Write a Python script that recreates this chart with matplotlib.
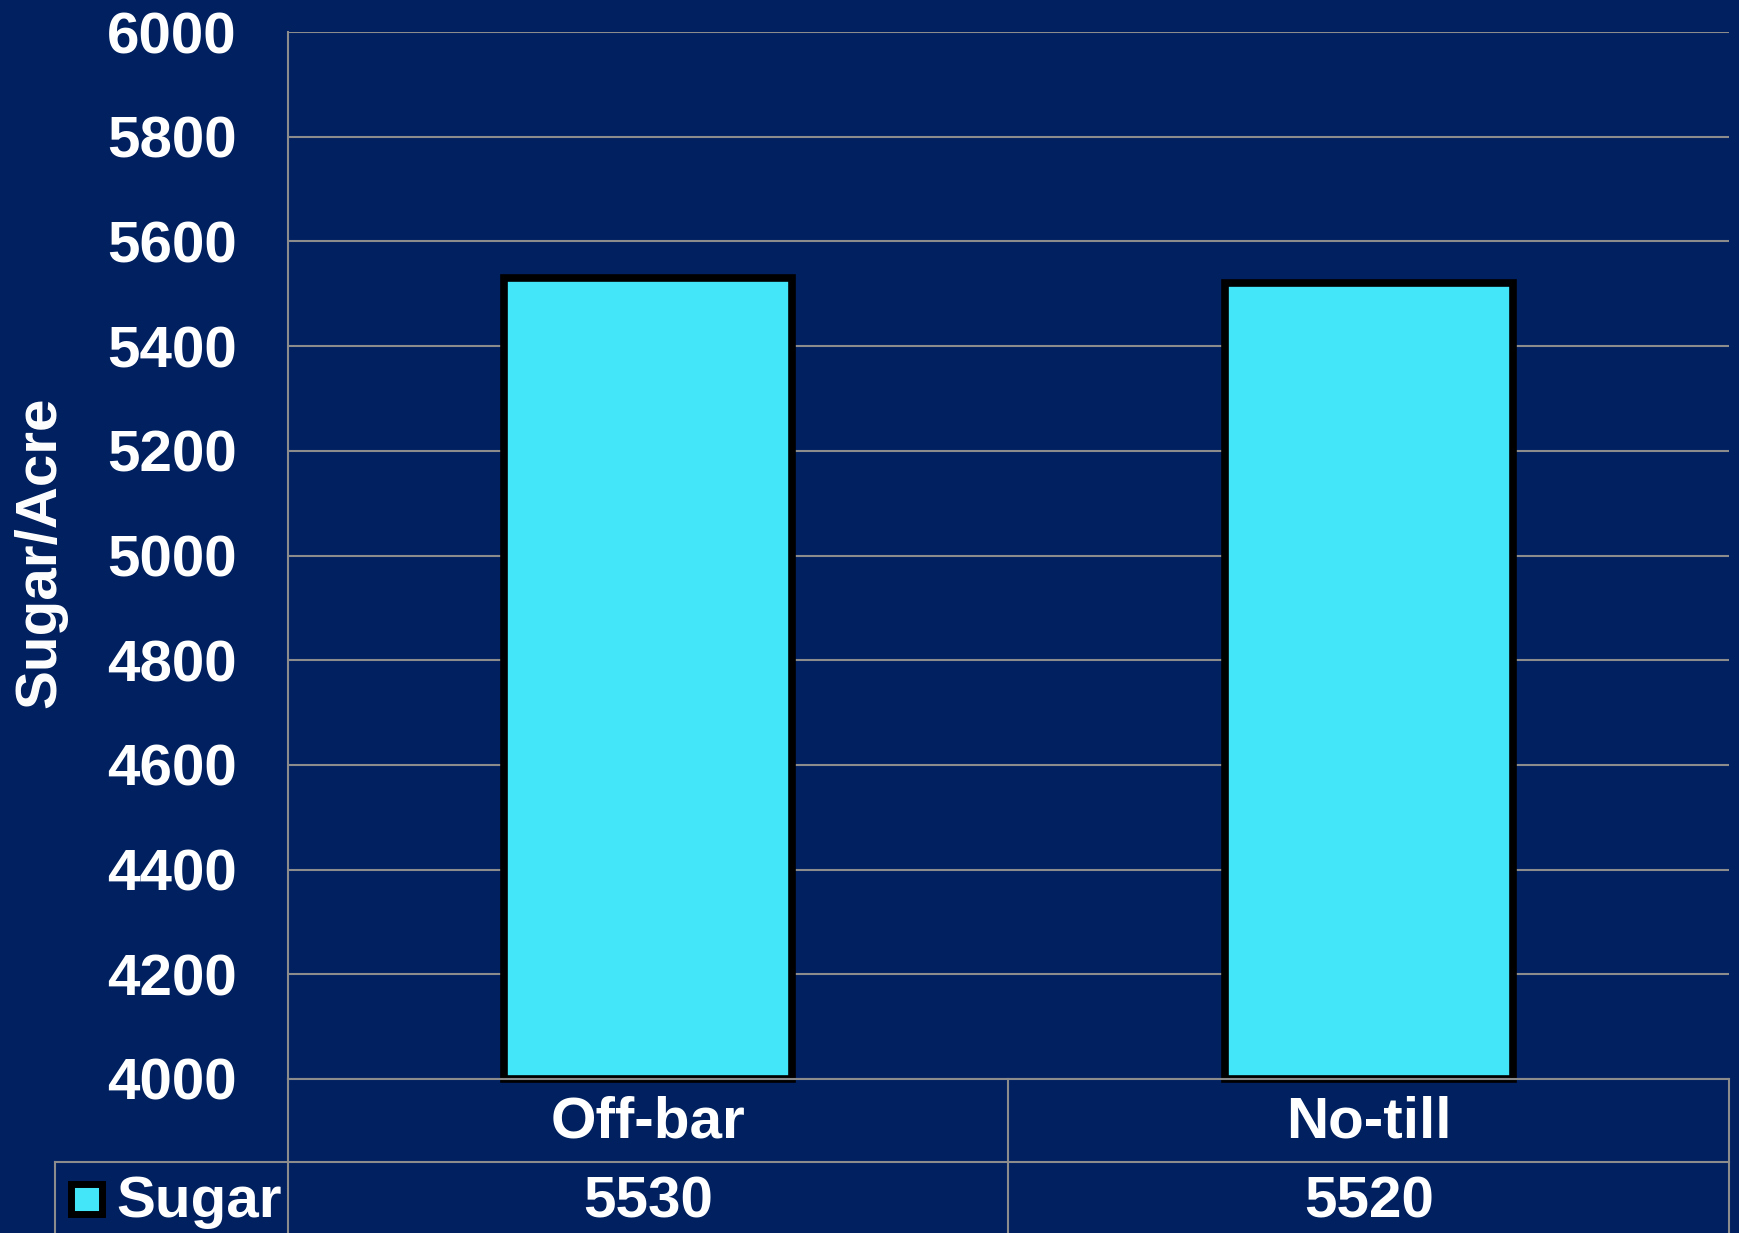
import matplotlib.pyplot as plt
from matplotlib.lines import Line2D
from matplotlib.patches import Rectangle

categories = ["Off-bar", "No-till"]
sugar = [5530, 5520]
series_name = "Sugar"
y_ticks = [4000, 4200, 4400, 4600, 4800, 5000, 5200, 5400, 5600, 5800, 6000]

bg = "#002060"
bar_color = "#42E6F8"
grid_color = "#8C8C8C"
font = "Liberation Sans"
fsize = 42

W, H = 1739, 1233
fig = plt.figure(figsize=(W / 100, H / 100), dpi=100, facecolor=bg)


def fx(px):
    return px / W


def fy(py):
    return 1 - py / H


# plot area in pixels
left, right, top, bottom = 288, 1729, 32, 1079
row_split = 1162
col_split = 1008
table_left = 55

ax = fig.add_axes([fx(left), fy(bottom), fx(right - left), (bottom - top) / H])
ax.set_facecolor(bg)
ax.set_xlim(-0.5, len(categories) - 0.5)
ax.set_ylim(y_ticks[0], y_ticks[-1])
ax.set_yticks(y_ticks)
ax.set_xticks([])
ax.tick_params(axis="y", length=0, pad=37, labelsize=fsize, labelcolor="white")
for lbl in ax.get_yticklabels():
    lbl.set_fontfamily(font)
    lbl.set_fontweight("bold")
for s in ax.spines.values():
    s.set_visible(False)
ax.spines["left"].set_visible(True)
ax.spines["left"].set_color(grid_color)
ax.spines["left"].set_linewidth(1.5)
ax.yaxis.grid(True, color=grid_color, linewidth=1.5)
ax.set_axisbelow(True)

base = y_ticks[0]
ax.bar(range(len(categories)), [v - base for v in sugar], width=0.40, bottom=base,
       color=bar_color, edgecolor="black", linewidth=5.5, zorder=3, clip_on=False)

fig.text(fx(40), fy(552), "Sugar/Acre", rotation=90, ha="center", va="center",
         color="white", fontsize=fsize, fontweight="bold", fontfamily=font)

# data table under the plot
lines = [
    ((left, right), (bottom, bottom)),
    ((table_left, right), (row_split, row_split)),
    ((left, left), (bottom, H)),
    ((col_split, col_split), (bottom, H)),
    ((right, right), (bottom, H)),
    ((table_left, table_left), (row_split, H)),
]
for xs, ys in lines:
    fig.add_artist(Line2D([fx(x) for x in xs], [fy(y) for y in ys],
                          color=grid_color, linewidth=1.5))

col_w = (right - left) / len(categories)
for i, (cat, val) in enumerate(zip(categories, sugar)):
    cx = left + col_w * (i + 0.5)
    fig.text(fx(cx), fy(1123), cat, ha="center", va="center", color="white",
             fontsize=fsize, fontweight="bold", fontfamily=font)
    fig.text(fx(cx), fy(1202), str(val), ha="center", va="center", color="white",
             fontsize=fsize, fontweight="bold", fontfamily=font)

# legend key
fig.add_artist(Rectangle((fx(70.5), fy(1213.5)), fx(31), 30 / H, facecolor=bar_color,
                         edgecolor="black", linewidth=5))
fig.text(fx(116), fy(1202), series_name, ha="left", va="center", color="white",
         fontsize=fsize, fontweight="bold", fontfamily=font)

fig.savefig("out.png", dpi=100, facecolor=bg)
